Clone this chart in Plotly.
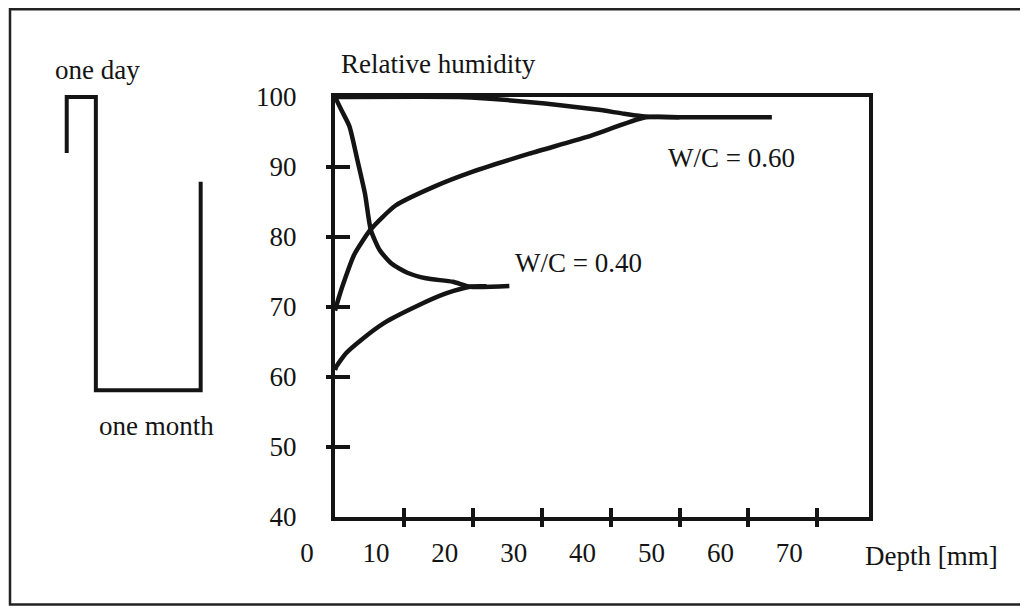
import plotly.graph_objects as go

OFF = 8  # the page body adds an 8 px margin around the figure
W, H = 1028 - 2 * OFF, 614 - 2 * OFF  # fit the window without scrollbars
FONT = "Liberation Serif"
INK = "#141414"

# ---- data ----
# W/C = 0.60 : profile that bounds the wet side (upper) and dry side (lower)
wc60_upper_depth = [0, 18, 22, 28, 33, 38, 42, 45, 50, 63.4]
wc60_upper_rh = [100, 100, 99.8, 99.3, 98.8, 98.2, 97.6, 97.2, 97.1, 97.1]
wc60_lower_depth = [0, 0.6, 1.3, 2.8, 5.2, 8.8, 14.4, 19.9, 28.2, 36.6, 45.1, 50]
wc60_lower_rh = [69.5, 71.5, 73.6, 77.5, 81.1, 84.5, 87.2, 89.3, 91.9, 94.3, 97.1, 97.1]

# W/C = 0.40
wc40_upper_depth = [0, 1.0, 2.1, 3.25, 4.35, 5.2, 6.5, 8.2, 10.5, 13.2, 17.1, 19.6, 25.3]
wc40_upper_rh = [100, 98.0, 95.8, 91.0, 86.2, 81.0, 78.1, 76.2, 74.9, 74.1, 73.6, 72.9, 73.0]
wc40_lower_depth = [0, 0.2, 1.6, 3.8, 7.1, 11.6, 16.0, 19.6, 22]
wc40_lower_rh = [61.0, 61.5, 63.4, 65.3, 67.7, 70.0, 71.9, 72.9, 72.95]

# schematic of the exposure cycle (one day wet, one month dry)
cycle_t = [0, 0, 1, 1, 4.6, 4.6]
cycle_rh = [92, 100, 100, 58.1, 58.1, 87.9]

x_ticks = [0, 10, 20, 30, 40, 50, 60, 70]
y_ticks = [40, 50, 60, 70, 80, 90, 100]

# ---- layout geometry (screen pixels) ----
PX_L, PX_R, PX_T, PX_B = 335, 869, 97, 517


def fx(px):
    return (px - OFF) / W


def fy(py):
    return 1 - (py - OFF) / H


fig = go.Figure()
line = dict(color=INK, width=4.5, shape="spline", smoothing=0.6)
for xs, ys in [(wc60_upper_depth, wc60_upper_rh), (wc60_lower_depth, wc60_lower_rh),
               (wc40_upper_depth, wc40_upper_rh), (wc40_lower_depth, wc40_lower_rh)]:
    fig.add_trace(go.Scatter(x=xs, y=ys, mode="lines", line=line, showlegend=False,
                             hoverinfo="skip"))

# dummy trace to create the overlay axes (second side of the ticks)
fig.add_trace(go.Scatter(x=[None], y=[None], xaxis="x2", yaxis="y2", showlegend=False))

# schematic
fig.add_trace(go.Scatter(x=cycle_t, y=cycle_rh, mode="lines", xaxis="x3", yaxis="y3",
                         line=dict(color=INK, width=4), showlegend=False, hoverinfo="skip"))

tickfont = dict(family=FONT, size=27, color=INK)
xr = [0, 77.5]
yr = [40, 100]
xdom = [fx(PX_L), fx(PX_R)]
ydom = [fy(PX_B), fy(PX_T)]

# schematic axes geometry
t_unit = 29.0
s_l = 66.7 - 0.3 * t_unit
s_r = 200.7 + 0.3 * t_unit
rh_unit = 7.0
s_t = PX_T - 2 * rh_unit
s_b = PX_B + 2 * rh_unit

# outer frame: open on the right (cut off by the page edge)
fl, ft, fb, fr = fx(10), 0.998, fy(604.5), 1.05
frame_path = f"M {fr},{ft} L {fl},{ft} L {fl},{fb} L {fr},{fb}"

fig.update_layout(
    template="none",
    width=W, height=H, autosize=False,
    margin=dict(l=0, r=0, t=0, b=0, pad=0),
    paper_bgcolor="white", plot_bgcolor="white",
    xaxis=dict(domain=xdom, range=xr, tickmode="array", tickvals=x_ticks,
               ticktext=[str(v) for v in x_ticks], ticks="inside", ticklen=9, tickwidth=4,
               tickcolor=INK, showline=True, linewidth=4, linecolor=INK, mirror=True,
               showgrid=False, zeroline=False, tickfont=tickfont, automargin=False,
               ticklabelshift=-28, ticklabelstandoff=9),
    yaxis=dict(domain=ydom, range=yr, tickmode="array", tickvals=y_ticks,
               ticktext=[str(v) for v in y_ticks], ticks="inside", ticklen=15, tickwidth=4,
               tickcolor=INK, showline=True, linewidth=4, linecolor=INK, mirror=True,
               showgrid=False, zeroline=False, tickfont=tickfont, automargin=False,
               ticklabelstandoff=29),
    xaxis2=dict(overlaying="x", domain=xdom, range=xr, tickmode="array",
                tickvals=x_ticks[1:], ticks="outside", ticklen=9, tickwidth=4,
                tickcolor=INK, showticklabels=False, showline=False, showgrid=False,
                zeroline=False, anchor="y2", automargin=False),
    yaxis2=dict(overlaying="y", domain=ydom, range=yr, tickmode="array",
                tickvals=y_ticks[1:-1], ticks="outside", ticklen=8, tickwidth=4,
                tickcolor=INK, showticklabels=False, showline=False, showgrid=False,
                zeroline=False, anchor="x2", automargin=False),
    xaxis3=dict(domain=[fx(s_l), fx(s_r)], range=[-0.3, 4.9], visible=False, anchor="y3",
                automargin=False),
    yaxis3=dict(domain=[fy(s_b), fy(s_t)], range=[38, 102], visible=False, anchor="x3",
                automargin=False),
    shapes=[dict(type="path", xref="paper", yref="paper", path=frame_path,
                 line=dict(color="#222", width=2.5))],
)

ann_font = dict(family=FONT, size=27, color=INK)
annotations = [
    dict(text="Relative humidity", x=fx(438), y=fy(64)),
    dict(text="Depth [mm]", x=fx(931), y=fy(556)),
    dict(text="one day", x=fx(97), y=fy(70)),
    dict(text="one month", x=fx(156), y=fy(426)),
]
for a in annotations:
    fig.add_annotation(xref="paper", yref="paper", showarrow=False, font=ann_font,
                       xanchor="center", yanchor="middle", **a)

fig.add_annotation(text="W/C = 0.60", x=57.5, y=91.3, xref="x", yref="y", showarrow=False,
                   font=ann_font, xanchor="center", yanchor="middle")
fig.add_annotation(text="W/C = 0.40", x=35.4, y=76.3, xref="x", yref="y", showarrow=False,
                   font=ann_font, xanchor="center", yanchor="middle")

fig.write_html("out.html")
